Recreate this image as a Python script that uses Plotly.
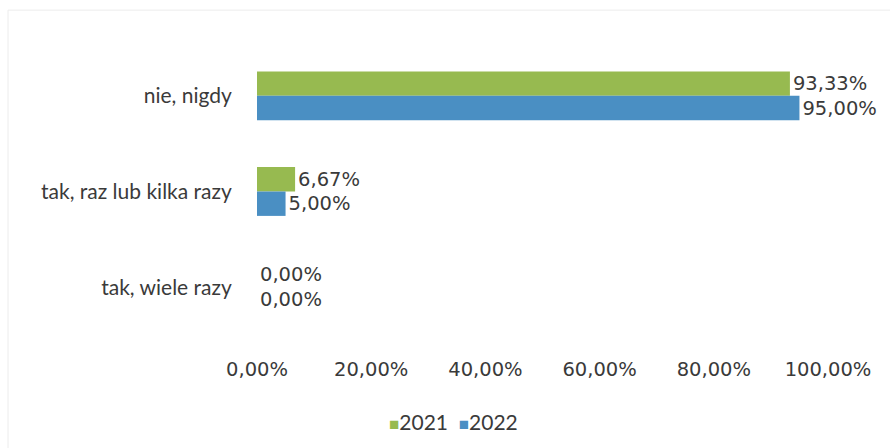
import plotly.graph_objects as go

categories = ["nie, nigdy", "tak, raz lub kilka razy", "tak, wiele razy"]
series_names = ["2021", "2022"]
values_2021 = [93.33, 6.67, 0.0]
values_2022 = [95.00, 5.00, 0.0]
tick_vals = [0, 20, 40, 60, 80, 100]
tick_labels = ["0,00%", "20,00%", "40,00%", "60,00%", "80,00%", "100,00%"]

colors = ["#97ba50", "#4a8fc3"]
cat_font = "Lato, Liberation Sans, sans-serif"
num_font = "DejaVu Sans, Verdana, sans-serif"
text_color = "#3a3a3a"


def fmt(v):
    return f"{v:.2f}".replace(".", ",") + "%"


fig = go.Figure()
for name, vals, col in zip(series_names, [values_2021, values_2022], colors):
    fig.add_trace(go.Bar(
        y=categories, x=vals, name=name, orientation="h",
        marker=dict(color=col, line=dict(width=0)),
        text=[fmt(v) for v in vals], textposition="outside",
        textfont=dict(family=num_font, size=19.5, color=text_color),
        cliponaxis=False,
    ))

legend_text = "  ".join(
    f"<span style='color:{c};font-size:17px'>■</span>{n}"
    for n, c in zip(series_names, colors)
)

fig.update_layout(
    width=890, height=448,
    margin=dict(l=257, r=62, t=48, b=113, autoexpand=False),
    paper_bgcolor="white", plot_bgcolor="white",
    barmode="group", bargap=0.49, bargroupgap=0,
    font=dict(family=cat_font, size=16, color=text_color),
    showlegend=False,
    xaxis=dict(range=[0, 100], tickvals=tick_vals, ticktext=tick_labels,
               showgrid=False, zeroline=False, showline=False,
               ticks="outside", ticklen=17, tickcolor="rgba(0,0,0,0)",
               tickfont=dict(family=num_font, size=19.5, color=text_color),
               fixedrange=True, automargin=False),
    yaxis=dict(autorange="reversed", showgrid=False, zeroline=False,
               showline=False, ticks="outside", ticklen=20,
               tickcolor="rgba(0,0,0,0)", automargin=False,
               tickfont=dict(family=cat_font, size=21, color=text_color)),
    annotations=[dict(text=legend_text, xref="paper", yref="paper",
                      x=0.345, y=-0.30, xanchor="center", yanchor="middle",
                      showarrow=False,
                      font=dict(family=cat_font, size=21, color=text_color))],
    shapes=[dict(type="rect", xref="paper", yref="paper",
                 x0=-0.436, x1=1.2, y0=-0.5, y1=1.132,
                 line=dict(color="#ececec", width=1))],
)

fig.write_html("out.html", config={"displayModeBar": False},
               post_script="document.body.style.margin='0px';")
